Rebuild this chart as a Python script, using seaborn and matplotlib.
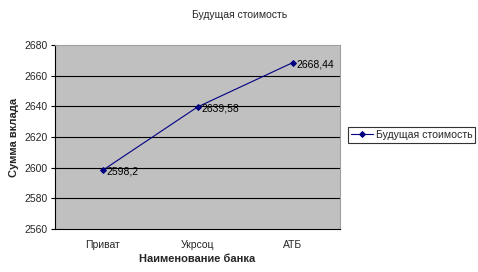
import matplotlib
matplotlib.use("Agg")
import matplotlib.pyplot as plt
import seaborn as sns
import pandas as pd

banks = ["Приват", "Укрсоц", "АТБ"]
values = [2598.2, 2639.58, 2668.44]
value_labels = ["2598,2", "2639,58", "2668,44"]
series_name = "Будущая стоимость"

sns.set_style("white")
plt.rcParams['font.family'] = ['Liberation Sans', 'DejaVu Sans']

df = pd.DataFrame({"bank": banks, "value": values, "x": range(len(banks))})

fig = plt.figure(figsize=(4.78, 2.72), dpi=100)
ax = fig.add_axes([55/478, 1 - 229/272, (340-55)/478, (229-45)/272])
ax.set_facecolor("#C0C0C0")

sns.lineplot(data=df, x="x", y="value", ax=ax, color="#000080", marker="D",
             markersize=3, linewidth=0.8, label=series_name, markeredgecolor="#000080")

for xi, v, lab in zip(df["x"], values, value_labels):
    ax.annotate(lab, (xi, v), xytext=(3, -1), textcoords="offset points",
                fontsize=7.5, ha="left", va="center", color="black")

ax.set_xlim(-0.5, 2.5)
ax.set_ylim(2560, 2680)
ax.set_yticks(range(2560, 2681, 20))
ax.set_xticks(range(len(banks)))
ax.set_xticklabels(banks, fontsize=7.5)
ax.set_xticks([0.5, 1.5], minor=True)
ax.tick_params(axis="x", which="major", length=0, pad=8)
ax.tick_params(axis="x", which="minor", length=3, direction="out", color="black")
ax.tick_params(axis="y", length=3, direction="out", labelsize=7.5, left=True, color="black", pad=2)
for yv in range(2580, 2680, 20):
    ax.axhline(yv, color="black", linewidth=0.8, zorder=0.5)

for s in ["left", "bottom"]:
    ax.spines[s].set_color("black")
    ax.spines[s].set_linewidth(0.8)
for s in ["top", "right"]:
    ax.spines[s].set_color("#A0A0A0")
    ax.spines[s].set_linewidth(0.8)

ax.set_xlabel("Наименование банка", fontsize=8, fontweight="bold", labelpad=3)
ax.set_ylabel("Сумма вклада", fontsize=8, fontweight="bold", labelpad=4)
fig.text(240/478, 1 - 15/272, "Будущая стоимость", ha="center", va="center", fontsize=7.5)

leg = ax.legend(loc="center left", frameon=True, fontsize=7.6, handlelength=2.1,
                handletextpad=0.3, borderpad=0.25, borderaxespad=0, fancybox=False)
leg.set_bbox_to_anchor((348/478, 1 - 135/272), transform=fig.transFigure)
leg.get_frame().set_edgecolor("black")
leg.get_frame().set_linewidth(0.8)

fig.savefig("out.png", dpi=100)
